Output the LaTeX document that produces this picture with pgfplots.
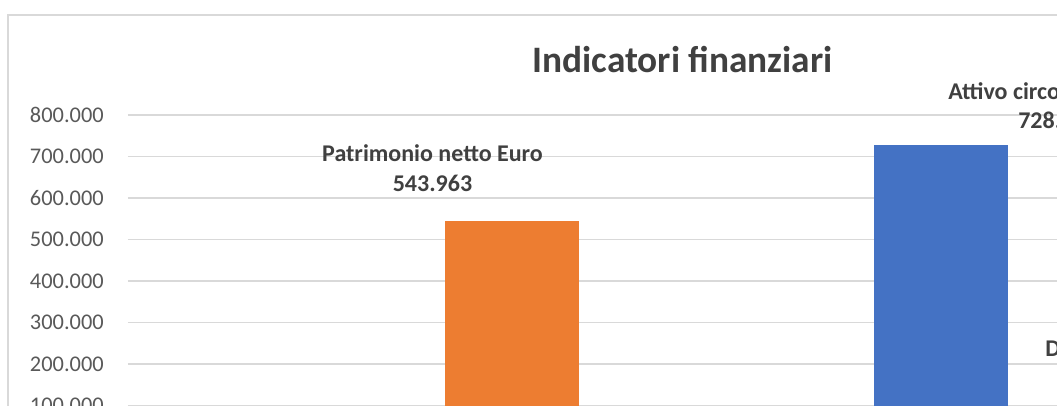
\documentclass[border=0pt]{standalone}
\usepackage{pgfplots}
\pgfplotsset{compat=1.18}
\usepackage{fontspec}
\setmainfont{Carlito}
\definecolor{gridgray}{HTML}{D9D9D9}
\definecolor{barorange}{HTML}{ED7D31}
\definecolor{barblue}{HTML}{4472C4}
\definecolor{labgray}{HTML}{404040}
\definecolor{tickgray}{HTML}{595959}
\begin{document}
\begin{tikzpicture}[x=0.75pt,y=0.75pt]
\useasboundingbox (0,0) rectangle (1057,405);
\clip (0,0) rectangle (1057,405);
\fill[white] (0,0) rectangle (1057,405);
\draw[gridgray, line width=1pt] (8,-20) -- (8,390) -- (1100,390);
\begin{axis}[
  at={(96pt,-31.5pt)}, anchor=south west,
  scale only axis, width=1029pt, height=249pt,
  xmin=128, xmax=1500, ymin=0, ymax=800000,
  axis line style={draw=none},
  major tick length=0pt,
  xtick=\empty,
  ytick={100000,200000,300000,400000,500000,600000,700000,800000},
  ymajorgrids, grid style={color=gridgray, line width=0.9pt},
  scaled y ticks=false,
  yticklabel style={/pgf/number format/.cd, fixed, precision=0, 1000 sep={.}, assume math mode=true, /tikz/.cd,
    font=\fontsize{16.8}{20}\selectfont, text=tickgray, inner sep=0pt, anchor=east, xshift=-18pt},
  clip=false,
]
\addplot[ybar, bar width=100.5pt, bar shift=0pt, fill=barorange, draw=none] coordinates {(512,543963)};
\addplot[ybar, bar width=100.5pt, bar shift=0pt, fill=barblue, draw=none] coordinates {(941,728500)};
\addplot[ybar, bar width=100.5pt, bar shift=0pt, fill=gray, draw=none] coordinates {(1370,90000)};
\end{axis}
\node[anchor=base, text=labgray, font=\fontsize{28}{34}\selectfont\bfseries, inner sep=0pt] at (682.5,333) {Indicatori finanziari};
\node[anchor=base, text=labgray, font=\fontsize{18}{22}\selectfont\bfseries, inner sep=0pt] at (432.5,243.3) {Patrimonio netto Euro};
\node[anchor=base, text=labgray, font=\fontsize{18}{22}\selectfont\bfseries, inner sep=0pt] at (432.5,213.3) {543.963};
\node[anchor=base west, text=labgray, font=\fontsize{18}{22}\selectfont\bfseries, inner sep=0pt] at (948,305.7) {Attivo circolante Euro};
\node[anchor=base west, text=labgray, font=\fontsize{18}{22}\selectfont\bfseries, inner sep=0pt] at (1018,276.7) {728.500};
\node[anchor=base west, text=labgray, font=\fontsize{18}{22}\selectfont\bfseries, inner sep=0pt] at (1045,48.3) {Debiti Euro};
\end{tikzpicture}
\end{document}
